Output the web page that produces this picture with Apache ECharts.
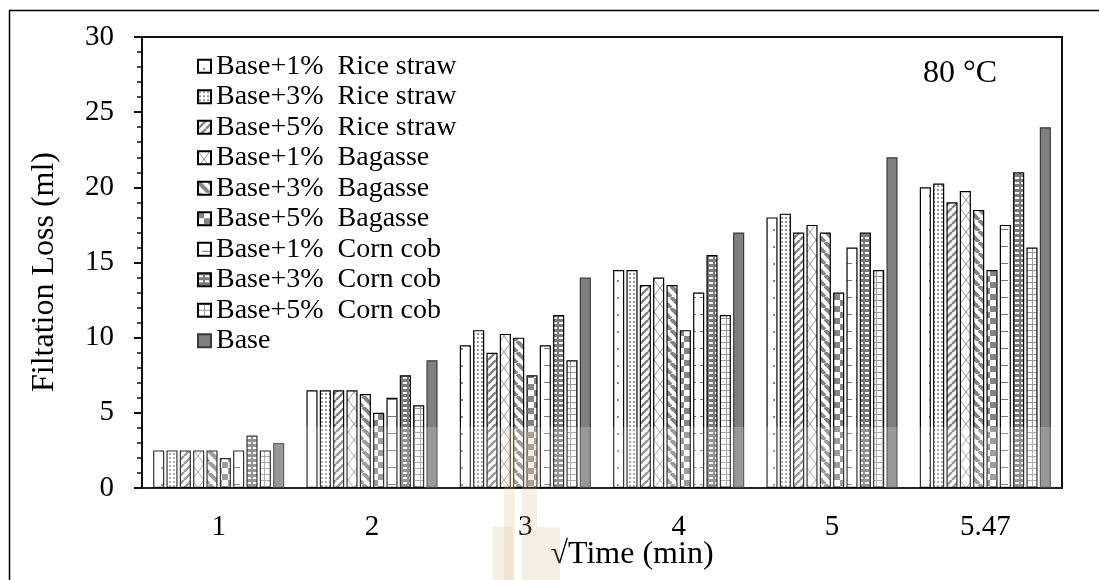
<!DOCTYPE html>
<html>
<head>
<meta charset="utf-8">
<script src="https://cdn.jsdelivr.net/npm/echarts@6/dist/echarts.min.js"></script>
<style>
  html, body { margin: 0; padding: 0; background: #fff; }
  #chart { width: 1099px; height: 580px; }
</style>
</head>
<body>
<div id="chart"></div>
<script>
// √Time categories and filtration loss (ml) at 80 °C
const categories = ['1', '2', '3', '4', '5', '5.47'];
const rice1 = [2.5, 6.5, 9.5, 14.5, 18, 20];
const rice3 = [2.5, 6.5, 10.5, 14.5, 18.25, 20.25];
const rice5 = [2.5, 6.5, 9, 13.5, 17, 19];
const bag1 = [2.5, 6.5, 10.25, 14, 17.5, 19.75];
const bag3 = [2.5, 6.25, 10, 13.5, 17, 18.5];
const bag5 = [2, 5, 7.5, 10.5, 13, 14.5];
const corn1 = [2.5, 6, 9.5, 13, 16, 17.5];
const corn3 = [3.5, 7.5, 11.5, 15.5, 17, 21];
const corn5 = [2.5, 5.5, 8.5, 11.5, 14.5, 16];
const base = [3, 8.5, 14, 17, 22, 24];
const yTicks = [0, 5, 10, 15, 20, 25, 30];

const FONT = "'Liberation Serif', 'Times New Roman', serif";
const GRAY = '#858585';

// Small tile canvases used as fill patterns
function tile(w, h, draw) {
  const c = document.createElement('canvas');
  c.width = w; c.height = h;
  const g = c.getContext('2d');
  g.fillStyle = '#fff';
  g.fillRect(0, 0, w, h);
  draw(g, w, h);
  return { image: c, repeat: 'repeat' };
}
function diag(g, w, h, width, up) {
  g.strokeStyle = GRAY; g.lineWidth = width;
  for (let k = -1; k <= 1; k++) {
    g.beginPath();
    if (up) { g.moveTo(k * w, h); g.lineTo(k * w + w, 0); }
    else { g.moveTo(k * w, 0); g.lineTo(k * w + w, h); }
    g.stroke();
  }
}
const patterns = {
  rice1: tile(12, 17, g => { g.fillStyle = '#888'; g.fillRect(5, 8, 2, 2); }),
  rice3: tile(4, 4, g => { g.fillStyle = '#999'; g.fillRect(1, 1, 2, 2); }),
  rice5: tile(8, 8, (g, w, h) => diag(g, w, h, 2.6, true)),
  bag1: tile(12, 16, (g, w, h) => {
    g.strokeStyle = '#9a9a9a'; g.lineWidth = 1;
    g.beginPath(); g.moveTo(0, 0); g.lineTo(w, h); g.moveTo(w, 0); g.lineTo(0, h); g.stroke();
  }),
  bag3: tile(11, 11, (g, w, h) => diag(g, w, h, 4, false)),
  bag5: tile(12, 12, g => { g.fillStyle = GRAY; g.fillRect(0, 0, 6, 6); g.fillRect(6, 6, 6, 6); }),
  corn1: tile(12, 17, g => { g.fillStyle = '#777'; g.fillRect(4, 8, 8, 1); }),
  corn3: tile(6, 5, g => { g.fillStyle = '#7a7a7a'; g.fillRect(0, 0, 6, 5); g.fillStyle = '#fff'; g.fillRect(1, 2, 4, 2); }),
  corn5: tile(6, 6, g => { g.fillStyle = '#9a9a9a'; g.fillRect(0, 0, 6, 1); g.fillRect(0, 0, 1, 6); })
};

const seriesDefs = [
  ['Base+1%  Rice straw', rice1, patterns.rice1, '#000'],
  ['Base+3%  Rice straw', rice3, patterns.rice3, '#000'],
  ['Base+5%  Rice straw', rice5, patterns.rice5, '#000'],
  ['Base+1%  Bagasse', bag1, patterns.bag1, '#000'],
  ['Base+3%  Bagasse', bag3, patterns.bag3, '#000'],
  ['Base+5%  Bagasse', bag5, patterns.bag5, '#000'],
  ['Base+1%  Corn cob', corn1, patterns.corn1, '#000'],
  ['Base+3%  Corn cob', corn3, patterns.corn3, '#000'],
  ['Base+5%  Corn cob', corn5, patterns.corn5, '#000'],
  ['Base', base, '#808080', '#3a3a3a']
];

// faint beige emblem printed behind the lower middle of the figure
const EMB = 'rgba(214,186,130,0.22)';
const emblem = [
  [504, 427, 11, 160], [522, 427, 15, 160],
  [493, 527, 20, 60], [537, 527, 23, 60]
].map(([x, y, w, h]) => ({
  type: 'rect', silent: true, z: 100,
  shape: { x, y, width: w, height: h }, style: { fill: EMB }
}));

const chart = echarts.init(document.getElementById('chart'), null, { renderer: 'canvas' });
chart.setOption({
  animation: false,
  backgroundColor: '#fff',
  textStyle: { fontFamily: FONT, color: '#000' },
  grid: {
    left: 142, right: 37, top: 37, bottom: 92,
    outerBoundsMode: 'none', containLabel: false,
    show: true, borderColor: '#111', borderWidth: 2, backgroundColor: 'transparent'
  },
  legend: {
    orient: 'vertical', left: 197, top: 51,
    icon: 'rect', itemWidth: 13, itemHeight: 13, itemGap: 0,
    padding: 0,
    textStyle: { fontFamily: FONT, fontSize: 28, color: '#000', lineHeight: 30.5 },
    data: seriesDefs.map(d => d[0])
  },
  xAxis: {
    type: 'category', data: categories,
    axisLine: { lineStyle: { color: '#222', width: 2 } },
    axisTick: { show: false },
    axisLabel: { fontFamily: FONT, fontSize: 29, color: '#000', margin: 25 }
  },
  yAxis: {
    type: 'value', min: yTicks[0], max: yTicks[yTicks.length - 1], interval: 5,
    axisLine: { show: true, lineStyle: { color: '#111', width: 2 } },
    axisTick: { show: true, inside: false, length: 8, lineStyle: { color: '#111', width: 2 } },
    minorTick: { show: true, splitNumber: 5, length: 5, lineStyle: { color: '#111', width: 1.5 } },
    splitLine: { show: false },
    axisLabel: { fontFamily: FONT, fontSize: 29, color: '#000', margin: 28 }
  },
  graphic: [
    { type: 'rect', left: 7, top: 8, silent: true,
      shape: { x: 0, y: 0, width: 1200, height: 700 },
      style: { fill: 'none', stroke: '#000', lineWidth: 1.5 } },
    { type: 'text', left: 923, top: 58,
      style: { text: '80 °C', font: '32px ' + FONT, fill: '#000' } },
    { type: 'text', x: 45, y: 272, rotation: Math.PI / 2,
      style: { text: 'Filtation Loss (ml)', font: '32px ' + FONT, fill: '#000',
               align: 'center', verticalAlign: 'middle' } },
    { type: 'text', x: 632, y: 555,
      style: { text: '√Time (min)', font: '32px ' + FONT, fill: '#000',
               align: 'center', verticalAlign: 'middle' } },
    { type: 'rect', silent: true, z: 90,
      shape: { x: 143, y: 427, width: 918, height: 60 },
      style: { fill: 'rgba(255,255,255,0.2)' } },
    ...emblem
  ],
  series: seriesDefs.map(([name, data, fill, border]) => ({
    name, type: 'bar', data,
    barGap: '20%', barCategoryGap: '14.5%',
    itemStyle: { color: fill, borderColor: border, borderWidth: 1.2 },
    emphasis: { disabled: true }
  }))
});
</script>
</body>
</html>
